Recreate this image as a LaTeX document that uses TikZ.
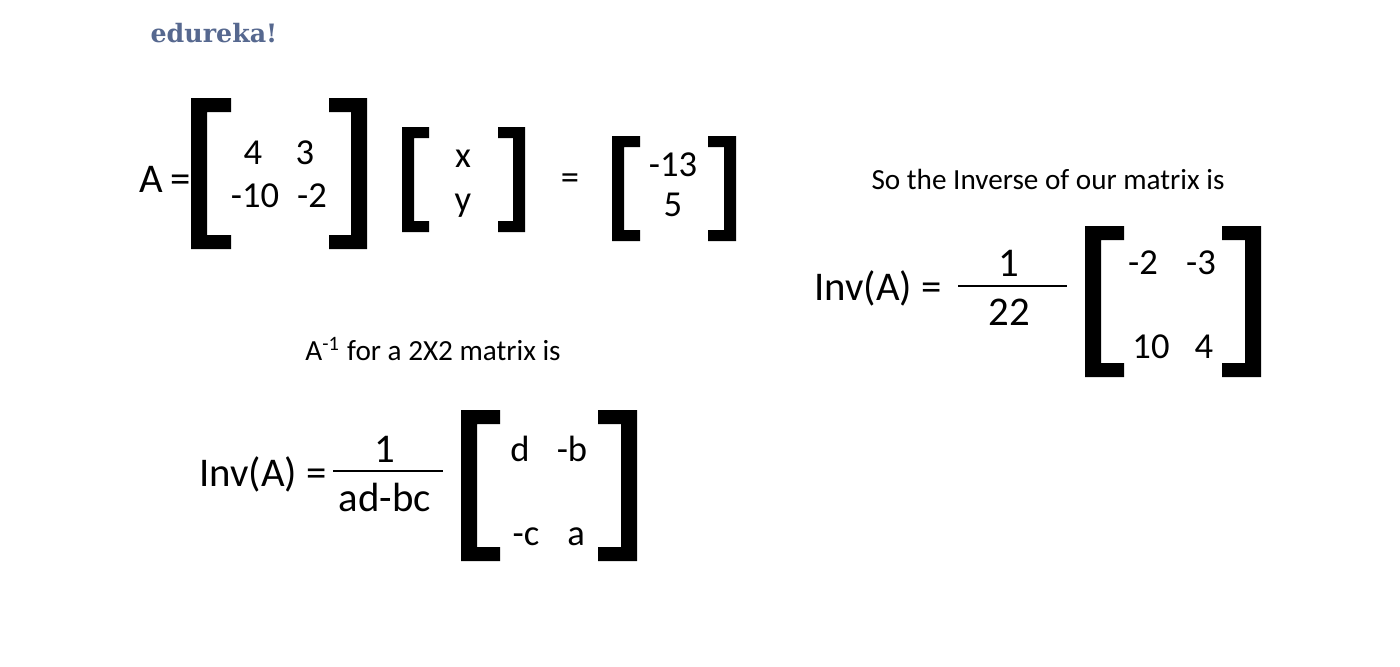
\documentclass[tikz,border=0pt]{standalone}
\usepackage{fontspec}
\setmainfont{Carlito}
\newfontfamily\logofont{DejaVu Serif}
\definecolor{logoblue}{HTML}{56688F}
\tikzset{
  entry/.style={inner sep=0pt,font=\fontsize{10.4pt}{12pt}\selectfont},
  bigtext/.style={inner sep=0pt,font=\fontsize{11.6pt}{14pt}\selectfont},
  plaintext/.style={inner sep=0pt,font=\fontsize{8.3pt}{10pt}\selectfont},
  fracbar/.style={line width=0.8pt,black}
}
\begin{document}
\begin{tikzpicture}[x=0.01cm,y=-0.01cm]
        % Background
        \useasboundingbox[fill=white] (0,0) rectangle (1400,666);

        % Logo
        \node[inner sep=0pt,text=logoblue,font=\logofont\bfseries\fontsize{7.2pt}{9pt}\selectfont] (logo) at (214,33) {edureka!};

        % Brackets: left, inner left, inner right, right, top, bottom, stem, tab
        \foreach \xa/\xb/\xc/\xd/\ya/\yb/\st/\tb in {
            191/231/329/367/98/249/16/14,
            402/429/498/525/127/232/12/11,
            612/640/708/736/136/241/12/11,
            461/500/598/637/410/561/16/14,
            1085/1124/1222/1261/226/377/16/14} {
            \fill[black] (\xb,\ya) -| (\xa,\yb) -- (\xb,\yb) -- ++(0,-\tb) -| ({\xa+\st},{\ya+\tb}) -- (\xb,{\ya+\tb}) -- cycle;
            \fill[black] (\xc,\ya) -| (\xd,\yb) -- (\xc,\yb) -- ++(0,-\tb) -| ({\xd-\st},{\ya+\tb}) -- (\xc,{\ya+\tb}) -- cycle;
        }

        % First equation
        \node[bigtext] (lhsA) at (165,179) {A\,=};
        \node[entry] (aOne) at (253,153) {4};
        \node[entry] (aTwo) at (305,153) {3};
        \node[entry] (aThree) at (255,196) {-10};
        \node[entry] (aFour) at (312,196) {-2};
        \node[entry] (vecX) at (463,159) {x};
        \node[entry] (vecY) at (463,206) {y};
        \node[entry] (eqSign) at (570,182) {=};
        \node[entry] (resOne) at (673,165) {-13};
        \node[entry] (resTwo) at (673,205) {5};

        % General inverse
        \node[plaintext] (ruleText) at (433,349) {A\textsuperscript{-1} for a 2X2 matrix is};
        \node[bigtext] (invGen) at (263,474) {Inv(A) =};
        \node[bigtext] (numGen) at (385,449) {1};
        \node[bigtext] (denGen) at (385,497) {ad-bc};
        \coordinate (barGenL) at (333,471);
        \coordinate (barGenR) at (443,471);
        \draw[fracbar] (barGenL) -- (barGenR);
        \node[entry] (genD) at (520,449) {d};
        \node[entry] (genB) at (572,449) {-b};
        \node[entry] (genC) at (526,537) {-c};
        \node[entry] (genA) at (576,537) {a};

        % Inverse of our matrix
        \node[plaintext] (soText) at (1048,179) {So the Inverse of our matrix is};
        \node[bigtext] (invOur) at (878,288) {Inv(A) =};
        \node[bigtext] (numOur) at (1009,263) {1};
        \node[bigtext] (denOur) at (1009,312) {22};
        \coordinate (barOurL) at (958,286);
        \coordinate (barOurR) at (1067,286);
        \draw[fracbar] (barOurL) -- (barOurR);
        \node[entry] (ourOne) at (1143,263) {-2};
        \node[entry] (ourTwo) at (1201,263) {-3};
        \node[entry] (ourThree) at (1151,347) {10};
        \node[entry] (ourFour) at (1204,347) {4};
    \end{tikzpicture}
\end{document}
